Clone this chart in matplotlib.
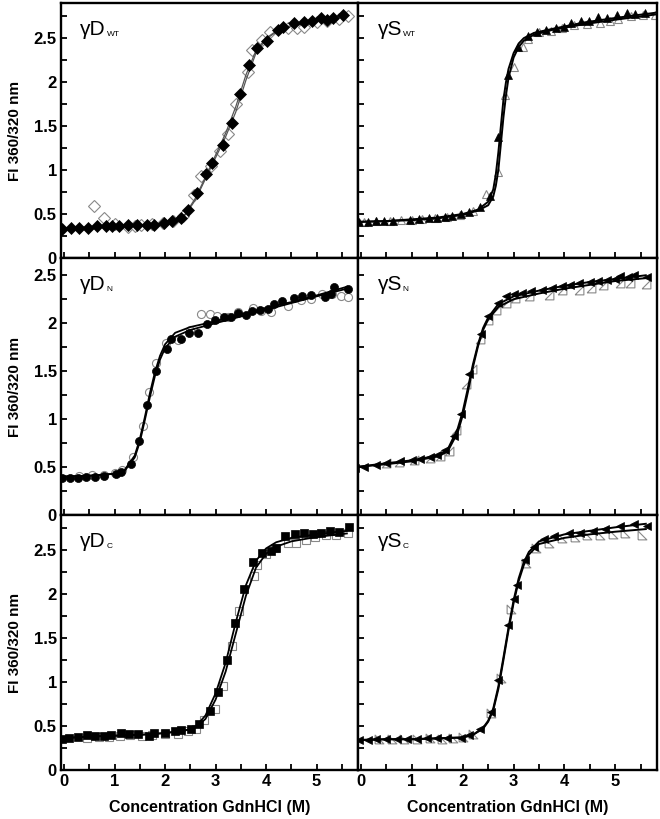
import matplotlib
matplotlib.use("Agg")
import matplotlib.pyplot as plt
from matplotlib.ticker import MultipleLocator

plt.rcParams['font.family'] = ['Liberation Sans', 'DejaVu Sans']

# ---------------- data ----------------
# gamma D WT
dwt_fx = [-0.04, 0.14, 0.30, 0.47, 0.65, 0.83, 0.95, 1.08, 1.26, 1.45, 1.64, 1.79, 1.97, 2.13, 2.32, 2.45, 2.63, 2.81, 2.92, 3.14, 3.32, 3.49, 3.67, 3.83, 4.01, 4.24, 4.33, 4.55, 4.75, 4.90, 5.09, 5.21, 5.32, 5.52]
dwt_fy = [0.33, 0.34, 0.34, 0.34, 0.36, 0.36, 0.36, 0.36, 0.37, 0.37, 0.38, 0.38, 0.40, 0.42, 0.46, 0.55, 0.74, 0.96, 1.08, 1.28, 1.53, 1.86, 2.19, 2.39, 2.47, 2.59, 2.63, 2.67, 2.68, 2.69, 2.73, 2.71, 2.73, 2.76]
dwt_ox = [0.60, 0.79, 1.00, 1.26, 1.40, 1.53, 1.75, 1.95, 2.15, 2.35, 2.58, 2.72, 2.90, 3.08, 3.24, 3.41, 3.65, 3.72, 3.92, 4.07, 4.43, 4.62, 4.76, 5.00, 5.20, 5.45, 5.62]
dwt_oy = [0.59, 0.45, 0.39, 0.35, 0.36, 0.38, 0.39, 0.40, 0.42, 0.48, 0.72, 0.93, 1.05, 1.22, 1.41, 1.75, 2.12, 2.36, 2.48, 2.57, 2.62, 2.62, 2.63, 2.68, 2.70, 2.72, 2.75]
dwt_fit_x = [-0.05, 0.5, 1.0, 1.5, 2.0, 2.2, 2.4, 2.6, 2.8, 3.0, 3.2, 3.4, 3.6, 3.8, 4.0, 4.2, 4.4, 4.8, 5.2, 5.6]
dwt_fit_f = [0.34, 0.35, 0.36, 0.37, 0.39, 0.42, 0.50, 0.68, 0.92, 1.17, 1.42, 1.72, 2.08, 2.36, 2.50, 2.58, 2.63, 2.68, 2.72, 2.77]
dwt_fit_o = [0.34, 0.35, 0.36, 0.37, 0.39, 0.42, 0.49, 0.66, 0.90, 1.14, 1.38, 1.66, 2.02, 2.33, 2.49, 2.57, 2.62, 2.67, 2.71, 2.76]

# gamma S WT
swt_fx = [-0.04, 0.13, 0.29, 0.46, 0.63, 0.96, 1.13, 1.33, 1.49, 1.66, 1.79, 1.96, 2.13, 2.33, 2.53, 2.69, 2.89, 3.09, 3.29, 3.46, 3.63, 3.83, 3.99, 4.13, 4.33, 4.49, 4.66, 4.83, 5.03, 5.23, 5.39, 5.59]
swt_fy = [0.41, 0.41, 0.42, 0.42, 0.42, 0.43, 0.44, 0.45, 0.46, 0.47, 0.48, 0.50, 0.52, 0.58, 0.70, 1.38, 2.08, 2.40, 2.53, 2.57, 2.59, 2.61, 2.63, 2.67, 2.69, 2.70, 2.74, 2.73, 2.76, 2.79, 2.77, 2.79]
swt_ox = [0.06, 0.30, 0.56, 0.79, 1.00, 1.20, 1.45, 1.70, 1.95, 2.20, 2.46, 2.69, 2.84, 3.00, 3.19, 3.29, 3.49, 3.73, 3.95, 4.19, 4.45, 4.69, 4.90, 5.06, 5.30, 5.55, 5.79]
swt_oy = [0.41, 0.42, 0.42, 0.43, 0.43, 0.44, 0.45, 0.47, 0.49, 0.53, 0.73, 0.98, 1.85, 2.17, 2.40, 2.49, 2.57, 2.58, 2.62, 2.65, 2.66, 2.67, 2.70, 2.72, 2.75, 2.76, 2.76]
swt_fit_x = [-0.1, 0.5, 1.0, 1.5, 2.0, 2.3, 2.5, 2.6, 2.65, 2.7, 2.75, 2.8, 2.85, 2.9, 3.0, 3.1, 3.2, 3.4, 3.8, 4.4, 5.0, 5.8]
swt_fit_f = [0.41, 0.42, 0.44, 0.46, 0.50, 0.55, 0.64, 0.78, 0.95, 1.20, 1.50, 1.80, 2.00, 2.15, 2.33, 2.44, 2.50, 2.56, 2.61, 2.68, 2.73, 2.79]
swt_fit_o = [0.41, 0.42, 0.43, 0.45, 0.49, 0.54, 0.60, 0.70, 0.82, 1.00, 1.30, 1.60, 1.85, 2.05, 2.28, 2.40, 2.47, 2.54, 2.60, 2.66, 2.71, 2.77]

# gamma D N
dn_fx = [-0.04, 0.12, 0.28, 0.44, 0.62, 0.80, 1.02, 1.13, 1.33, 1.48, 1.64, 1.82, 2.04, 2.12, 2.32, 2.48, 2.65, 2.83, 2.99, 3.16, 3.31, 3.45, 3.60, 3.72, 3.87, 4.03, 4.16, 4.31, 4.55, 4.72, 4.88, 5.16, 5.29, 5.35, 5.62]
dn_fy = [0.39, 0.39, 0.39, 0.40, 0.40, 0.41, 0.43, 0.45, 0.53, 0.77, 1.15, 1.50, 1.73, 1.84, 1.84, 1.90, 1.90, 1.99, 2.03, 2.06, 2.06, 2.11, 2.09, 2.13, 2.14, 2.15, 2.20, 2.23, 2.26, 2.28, 2.29, 2.27, 2.30, 2.38, 2.36]
dn_ox = [0.30, 0.55, 0.80, 1.00, 1.15, 1.36, 1.56, 1.69, 1.82, 2.02, 2.25, 2.50, 2.71, 2.88, 3.03, 3.25, 3.45, 3.74, 3.90, 4.10, 4.43, 4.70, 4.88, 5.10, 5.30, 5.49, 5.62]
dn_oy = [0.41, 0.42, 0.42, 0.44, 0.47, 0.61, 0.93, 1.28, 1.58, 1.79, 1.83, 1.93, 2.10, 2.10, 2.08, 2.06, 2.12, 2.16, 2.13, 2.12, 2.18, 2.24, 2.25, 2.30, 2.30, 2.28, 2.27]
dn_fit_x = [-0.1, 0.5, 1.0, 1.2, 1.4, 1.5, 1.6, 1.7, 1.8, 1.9, 2.0, 2.2, 2.5, 3.0, 3.5, 4.0, 4.5, 5.0, 5.6]
dn_fit_f = [0.40, 0.41, 0.43, 0.46, 0.60, 0.76, 0.99, 1.23, 1.45, 1.62, 1.74, 1.86, 1.93, 2.00, 2.07, 2.14, 2.21, 2.28, 2.36]
dn_fit_o = [0.40, 0.41, 0.43, 0.47, 0.62, 0.79, 1.02, 1.27, 1.49, 1.66, 1.78, 1.90, 1.96, 2.02, 2.09, 2.16, 2.22, 2.29, 2.38]

# gamma S N
sn_fx = [-0.11, 0.05, 0.29, 0.50, 0.76, 1.00, 1.16, 1.35, 1.49, 1.66, 1.83, 1.96, 2.13, 2.36, 2.49, 2.69, 2.86, 3.00, 3.16, 3.35, 3.55, 3.76, 3.95, 4.10, 4.29, 4.50, 4.65, 4.83, 5.00, 5.09, 5.25, 5.36, 5.63]
sn_fy = [0.49, 0.50, 0.52, 0.54, 0.56, 0.57, 0.58, 0.60, 0.63, 0.68, 0.82, 1.05, 1.47, 1.89, 2.08, 2.21, 2.28, 2.30, 2.32, 2.34, 2.35, 2.37, 2.39, 2.40, 2.42, 2.43, 2.44, 2.45, 2.46, 2.49, 2.48, 2.50, 2.48]
sn_ox = [0.50, 0.75, 1.05, 1.35, 1.55, 1.72, 1.86, 2.06, 2.19, 2.33, 2.49, 2.66, 2.85, 3.03, 3.30, 3.69, 3.95, 4.29, 4.53, 4.76, 5.09, 5.29, 5.61]
sn_oy = [0.54, 0.55, 0.57, 0.59, 0.62, 0.67, 0.89, 1.37, 1.52, 1.84, 2.03, 2.14, 2.21, 2.26, 2.28, 2.29, 2.35, 2.35, 2.37, 2.40, 2.42, 2.42, 2.41]
sn_fit_x = [-0.1, 0.5, 1.0, 1.5, 1.7, 1.9, 2.0, 2.1, 2.2, 2.3, 2.4, 2.5, 2.7, 3.0, 3.5, 4.0, 4.5, 5.0, 5.6]
sn_fit_f = [0.50, 0.54, 0.57, 0.62, 0.68, 0.90, 1.08, 1.32, 1.57, 1.78, 1.95, 2.06, 2.20, 2.28, 2.34, 2.39, 2.43, 2.46, 2.50]
sn_fit_o = [0.50, 0.53, 0.56, 0.61, 0.66, 0.86, 1.04, 1.28, 1.54, 1.76, 1.93, 2.04, 2.17, 2.25, 2.31, 2.36, 2.40, 2.44, 2.47]

# gamma D C
dc_fx = [-0.04, 0.10, 0.28, 0.45, 0.62, 0.80, 0.93, 1.12, 1.29, 1.46, 1.69, 1.79, 1.99, 2.19, 2.32, 2.52, 2.68, 2.88, 3.04, 3.23, 3.39, 3.56, 3.74, 3.91, 4.10, 4.20, 4.38, 4.58, 4.75, 4.93, 5.09, 5.26, 5.45, 5.65]
dc_fy = [0.35, 0.36, 0.38, 0.40, 0.39, 0.39, 0.40, 0.42, 0.41, 0.41, 0.39, 0.42, 0.42, 0.44, 0.45, 0.47, 0.52, 0.67, 0.89, 1.25, 1.67, 2.06, 2.36, 2.47, 2.49, 2.52, 2.66, 2.68, 2.70, 2.68, 2.70, 2.72, 2.71, 2.76]
dc_ox = [0.45, 0.70, 0.90, 1.10, 1.30, 1.55, 1.75, 2.00, 2.25, 2.45, 2.62, 2.78, 2.98, 3.14, 3.32, 3.47, 3.77, 3.82, 4.00, 4.17, 4.43, 4.60, 4.80, 4.96, 5.19, 5.39, 5.62]
dc_oy = [0.36, 0.37, 0.38, 0.39, 0.40, 0.39, 0.40, 0.41, 0.41, 0.44, 0.47, 0.57, 0.69, 0.96, 1.41, 1.81, 2.21, 2.33, 2.46, 2.52, 2.58, 2.58, 2.62, 2.65, 2.67, 2.67, 2.69]
dc_fit_x = [-0.1, 0.5, 1.0, 1.5, 2.0, 2.4, 2.6, 2.8, 3.0, 3.2, 3.4, 3.6, 3.8, 4.0, 4.2, 4.5, 5.0, 5.6]
dc_fit_f = [0.36, 0.38, 0.39, 0.40, 0.42, 0.45, 0.49, 0.62, 0.87, 1.22, 1.68, 2.10, 2.38, 2.52, 2.59, 2.64, 2.68, 2.72]
dc_fit_o = [0.36, 0.38, 0.39, 0.40, 0.42, 0.45, 0.48, 0.58, 0.80, 1.12, 1.55, 1.98, 2.30, 2.46, 2.54, 2.60, 2.65, 2.69]

# gamma S C
sc_fx = [-0.04, 0.13, 0.30, 0.50, 0.70, 0.90, 1.10, 1.30, 1.50, 1.70, 1.96, 2.13, 2.33, 2.56, 2.69, 2.88, 3.01, 3.06, 3.23, 3.41, 3.59, 3.80, 4.09, 4.30, 4.56, 4.80, 5.09, 5.36, 5.63]
sc_fy = [0.34, 0.34, 0.35, 0.35, 0.35, 0.35, 0.35, 0.36, 0.36, 0.36, 0.36, 0.40, 0.47, 0.66, 1.02, 1.65, 1.95, 2.10, 2.39, 2.54, 2.63, 2.66, 2.69, 2.70, 2.72, 2.74, 2.78, 2.80, 2.78]
sc_ox = [0.35, 0.60, 0.85, 1.10, 1.35, 1.60, 1.80, 2.00, 2.20, 2.55, 2.75, 2.95, 3.25, 3.45, 3.70, 3.95, 4.20, 4.45, 4.70, 4.95, 5.20, 5.53]
sc_oy = [0.35, 0.35, 0.35, 0.35, 0.36, 0.35, 0.36, 0.37, 0.41, 0.65, 1.05, 1.83, 2.35, 2.52, 2.58, 2.64, 2.65, 2.67, 2.67, 2.68, 2.69, 2.67]
sc_fit_x = [-0.1, 0.5, 1.0, 1.5, 2.0, 2.2, 2.4, 2.5, 2.6, 2.7, 2.8, 2.9, 3.0, 3.1, 3.2, 3.3, 3.5, 4.0, 4.5, 5.0, 5.6]
sc_fit_f = [0.34, 0.35, 0.35, 0.36, 0.37, 0.40, 0.48, 0.56, 0.70, 0.95, 1.28, 1.62, 1.93, 2.18, 2.36, 2.48, 2.60, 2.68, 2.72, 2.76, 2.80]
sc_fit_o = [0.34, 0.35, 0.35, 0.36, 0.37, 0.40, 0.47, 0.55, 0.68, 0.92, 1.25, 1.59, 1.90, 2.15, 2.33, 2.45, 2.57, 2.64, 2.68, 2.71, 2.74]

labels_main = ['γD', 'γS', 'γD', 'γS', 'γD', 'γS']
labels_sub = ['WT', 'WT', 'N', 'N', 'C', 'C']
row_ylims = [2.9, 2.68, 2.9]

# ---------------- drawing ----------------
fig = plt.figure(figsize=(6.6, 8.19), dpi=100)
L, M, R = 61 / 660, 358 / 660, 657 / 660
row_edges = [3, 258, 515, 770]
axes = []
for r in range(3):
    top = 1 - row_edges[r] / 819
    bot = 1 - row_edges[r + 1] / 819
    for c in range(2):
        x0 = L if c == 0 else M
        x1 = M if c == 0 else R
        ax = fig.add_axes([x0, bot, x1 - x0, top - bot])
        axes.append(ax)

tri_right = [(-1, -1), (1, -1), (1, 1), (-1, -1)]
tri_left = [(-1, -1), (1, -1), (-1, 1), (-1, -1)]

panels = [
    dict(fx=dwt_fx, fy=dwt_fy, ox=dwt_ox, oy=dwt_oy, fitx=dwt_fit_x, fitf=dwt_fit_f, fito=dwt_fit_o,
         fm='D', om='D', ms=5.8, fitc='#555555', fitlw=0.9),
    dict(fx=swt_fx, fy=swt_fy, ox=swt_ox, oy=swt_oy, fitx=swt_fit_x, fitf=swt_fit_f, fito=swt_fit_o,
         fm='^', om='^', ms=6.3, fitc='black', fitlw=1.4),
    dict(fx=dn_fx, fy=dn_fy, ox=dn_ox, oy=dn_oy, fitx=dn_fit_x, fitf=dn_fit_f, fito=dn_fit_o,
         fm='o', om='o', ms=5.8, fitc='black', fitlw=1.3),
    dict(fx=sn_fx, fy=sn_fy, ox=sn_ox, oy=sn_oy, fitx=sn_fit_x, fitf=sn_fit_f, fito=sn_fit_o,
         fm='<', om=tri_right, ms=6.3, fitc='black', fitlw=1.4),
    dict(fx=dc_fx, fy=dc_fy, ox=dc_ox, oy=dc_oy, fitx=dc_fit_x, fitf=dc_fit_f, fito=dc_fit_o,
         fm='s', om='s', ms=5.5, fitc='black', fitlw=1.3),
    dict(fx=sc_fx, fy=sc_fy, ox=sc_ox, oy=sc_oy, fitx=sc_fit_x, fitf=sc_fit_f, fito=sc_fit_o,
         fm='<', om=tri_left, ms=6.3, fitc='black', fitlw=1.4),
]

for i, (ax, p) in enumerate(zip(axes, panels)):
    r, c = divmod(i, 2)
    ax.plot(p['ox'], p['oy'], linestyle='none', marker=p['om'], ms=p['ms'],
            mfc='white', mec='#888888', mew=0.8, zorder=2)
    ax.plot(p['fitx'], p['fito'], color=p['fitc'], lw=p['fitlw'], zorder=3)
    ax.plot(p['fitx'], p['fitf'], color=p['fitc'], lw=p['fitlw'], zorder=3)
    ax.plot(p['fx'], p['fy'], linestyle='none', marker=p['fm'], ms=p['ms'],
            mfc='black', mec='black', mew=0.5, zorder=4)

    ax.set_xlim(-0.06, 5.82)
    ax.set_ylim(0, row_ylims[r])
    ax.xaxis.set_major_locator(MultipleLocator(1))
    ax.xaxis.set_minor_locator(MultipleLocator(0.5))
    ax.yaxis.set_major_locator(MultipleLocator(0.5))
    ax.yaxis.set_minor_locator(MultipleLocator(0.25))
    ax.tick_params(which='both', direction='in', length=4.5, width=1.3,
                   top=False, right=False, labelsize=12)
    ax.tick_params(which='major', pad=3)
    for s in ax.spines.values():
        s.set_linewidth(1.7)
    ax.yaxis.set_major_formatter(matplotlib.ticker.FuncFormatter(lambda v, pos: f'{v:g}'))
    for lab in ax.get_xticklabels() + ax.get_yticklabels():
        lab.set_fontweight('bold')
    if c == 1:
        ax.tick_params(labelleft=False)
    else:
        ax.set_ylabel('FI 360/320 nm', fontsize=11, fontweight='bold')
    if r < 2:
        ax.tick_params(labelbottom=False)
    else:
        ax.set_xlabel('Concentration GdnHCl (M)', fontsize=11.5, fontweight='bold', labelpad=8)
        ax.set_xticks([0, 1, 2, 3, 4, 5])
        ax.set_xticklabels(['0', '1', '2', '3', '4', '5'], fontweight='bold')

    t = ax.text(0.065, 0.875, labels_main[i], transform=ax.transAxes,
                fontsize=15, ha='left', va='baseline')
    ax.annotate(labels_sub[i], xy=(1, 0), xycoords=t, xytext=(0.5, 0.5),
                textcoords='offset points', fontsize=6, ha='left', va='bottom')

for i in range(0, 6, 2):
    axes[i].yaxis.set_label_coords(-0.13, 0.5)

fig.savefig('out.png', dpi=100)
